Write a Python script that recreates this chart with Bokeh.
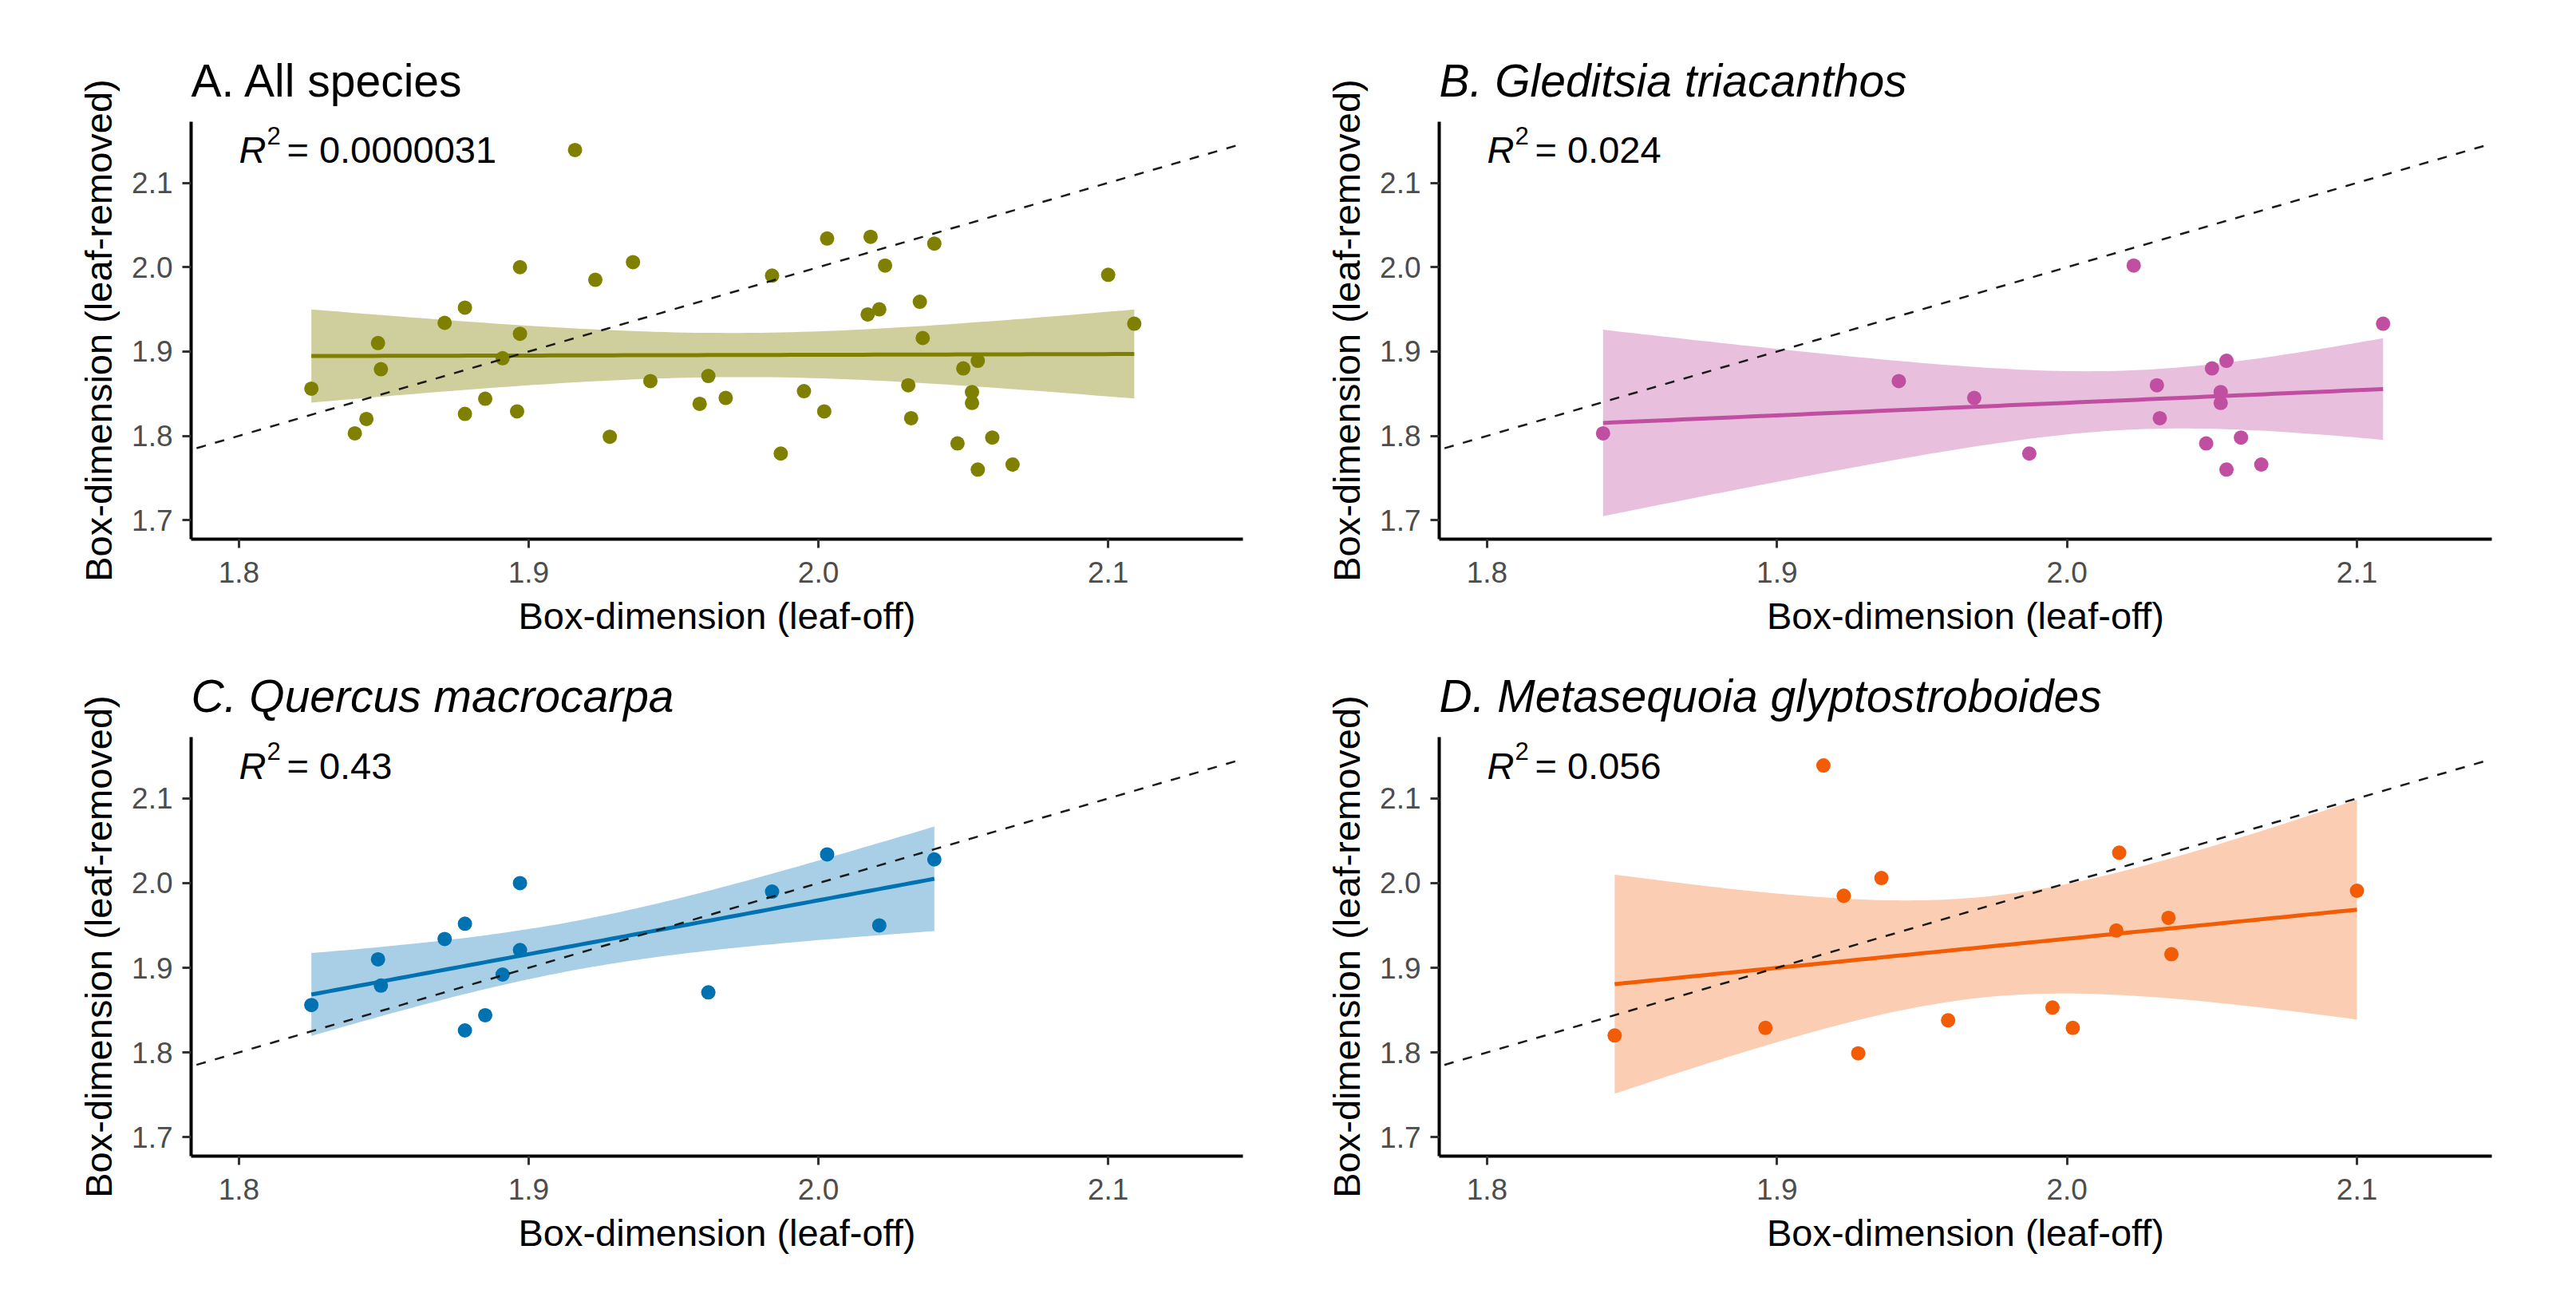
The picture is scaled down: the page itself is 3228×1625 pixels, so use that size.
import numpy as np
from bokeh.plotting import figure
from bokeh.layouts import column, row
from bokeh.models import Range1d, FixedTicker, Slope
from bokeh.core.properties import value
from bokeh.embed import file_html
from bokeh.resources import INLINE

# ---------------- data ----------------
# B. Gleditsia triacanthos
gt_off = [1.840, 1.942, 1.968, 1.987, 2.023, 2.031, 2.032, 2.048, 2.050, 2.055,
          2.053, 2.053, 2.060, 2.055, 2.067, 2.109]
gt_rem = [1.803, 1.865, 1.845, 1.779, 2.002, 1.860, 1.821, 1.791, 1.880, 1.889,
          1.852, 1.839, 1.798, 1.760, 1.766, 1.933]
# C. Quercus macrocarpa
qm_off = [1.825, 1.848, 1.849, 1.871, 1.878, 1.878, 1.885, 1.891, 1.897, 1.897,
          1.962, 1.984, 2.003, 2.021, 2.040]
qm_rem = [1.856, 1.910, 1.879, 1.934, 1.952, 1.826, 1.844, 1.892, 2.000, 1.921,
          1.871, 1.990, 2.034, 1.950, 2.028]
# D. Metasequoia glyptostroboides
mg_off = [1.844, 1.896, 1.916, 1.923, 1.928, 1.936, 1.959, 1.995, 2.002, 2.017,
          2.018, 2.035, 2.036, 2.100]
mg_rem = [1.820, 1.829, 2.139, 1.985, 1.799, 2.006, 1.838, 1.853, 1.829, 1.944,
          2.036, 1.959, 1.916, 1.991]
# A. All species
all_off = gt_off + qm_off + mg_off
all_rem = gt_rem + qm_rem + mg_rem

panel_titles = ["A. All species", "B. Gleditsia triacanthos",
                "C. Quercus macrocarpa", "D. Metasequoia glyptostroboides"]
r2_labels = ["0.0000031", "0.024", "0.43", "0.056"]
t_crit = [2.017, 2.145, 2.160, 2.179]   # 95% t quantiles, df = n - 2
colors = ["#808000", "#C04FA2", "#0072B2", "#F25C05"]
band_alpha = [0.38, 0.36, 0.34, 0.30]

x_ticks = [1.8, 1.9, 2.0, 2.1]
x_tick_labels = ["1.8", "1.9", "2.0", "2.1"]
y_ticks = [1.7, 1.8, 1.9, 2.0, 2.1]
y_tick_labels = ["1.7", "1.8", "1.9", "2.0", "2.1"]

x_label = "Box-dimension (leaf-off)"
y_label = "Box-dimension (leaf-removed)"

FONT = "Liberation Sans"


def make_panel(title, italic, off, rem, color, alpha, r2, tq, borders):
    left, right, top, bottom = borders
    p = figure(width=1606, height=800,
               x_range=Range1d(1.7835, 2.1465), y_range=Range1d(1.6775, 2.1725),
               output_backend="svg", toolbar_location=None,
               min_border_left=left, min_border_right=right,
               min_border_top=top, min_border_bottom=bottom)
    p.grid.visible = False
    p.outline_line_color = None
    p.background_fill_color = "white"
    p.border_fill_color = "white"

    # title
    p.title.text = title
    p.title.text_font = FONT
    p.title.text_font_size = "57px"
    p.title.text_font_style = "italic" if italic else "normal"
    p.title.text_color = "black"
    p.title.align = "left"
    p.title.offset = 0
    p.title.standoff = 40

    for ax, ticks, labels in ((p.xaxis[0], x_ticks, x_tick_labels),
                              (p.yaxis[0], y_ticks, y_tick_labels)):
        ax.ticker = FixedTicker(ticks=ticks)
        ax.major_label_overrides = {t: l for t, l in zip(ticks, labels)}
        ax.minor_tick_line_color = None
        ax.major_tick_in = 0
        ax.major_tick_out = 11
        ax.major_tick_line_width = 3
        ax.major_tick_line_color = "#333333"
        ax.axis_line_width = 4
        ax.axis_line_color = "black"
        ax.major_label_text_font = FONT
        ax.major_label_text_font_size = "37px"
        ax.major_label_text_color = "#4D4D4D"
        ax.axis_label_text_font = FONT
        ax.axis_label_text_font_size = "47px"
        ax.axis_label_text_font_style = "normal"
        ax.axis_label_text_color = "black"
    p.xaxis[0].axis_label = x_label
    p.yaxis[0].axis_label = y_label
    p.xaxis[0].major_label_standoff = 17
    p.xaxis[0].axis_label_standoff = 12
    p.yaxis[0].major_label_standoff = 12
    p.yaxis[0].axis_label_standoff = 12

    # linear fit with 95% confidence band
    x = np.asarray(off, dtype=float)
    y = np.asarray(rem, dtype=float)
    n = len(x)
    b, a = np.polyfit(x, y, 1)
    resid = y - (a + b * x)
    s = np.sqrt(np.sum(resid ** 2) / (n - 2))
    xbar = x.mean()
    sxx = np.sum((x - xbar) ** 2)
    xs = np.linspace(x.min(), x.max(), 80)
    pred = a + b * xs
    se = s * np.sqrt(1.0 / n + (xs - xbar) ** 2 / sxx)
    p.varea(x=xs, y1=pred - tq * se, y2=pred + tq * se,
            fill_color=color, fill_alpha=alpha)
    p.line(xs, pred, line_color=color, line_width=5)

    p.scatter(off, rem, size=18, fill_color=color, line_color=color, line_width=0)

    p.add_layout(Slope(gradient=1, y_intercept=0, line_color="#1a1a1a",
                       line_width=2.5, line_dash="12 12"))

    # R^2 annotation
    yl = 2.139
    p.text(x=[1.8], y=[yl], text=["R"], text_font=value(FONT),
           text_font_size="47px", text_font_style="italic",
           text_baseline="middle", text_align="left", text_color="black")
    p.text(x=[1.8], y=[yl], text=["2"], text_font=value(FONT),
           text_font_size="31px", x_offset=35, y_offset=-18,
           text_baseline="middle", text_align="left", text_color="black")
    p.text(x=[1.8], y=[yl], text=["= " + r2], text_font=value(FONT),
           text_font_size="47px", x_offset=60,
           text_baseline="middle", text_align="left", text_color="black")
    return p


pA = make_panel(panel_titles[0], False, all_off, all_rem, colors[0], band_alpha[0],
                r2_labels[0], t_crit[0], (239, 49, 152, 123))
pB = make_panel(panel_titles[1], True, gt_off, gt_rem, colors[1], band_alpha[1],
                r2_labels[1], t_crit[1], (197, 90, 152, 123))
pC = make_panel(panel_titles[2], True, qm_off, qm_rem, colors[2], band_alpha[2],
                r2_labels[2], t_crit[2], (239, 49, 123, 152))
pD = make_panel(panel_titles[3], True, mg_off, mg_rem, colors[3], band_alpha[3],
                r2_labels[3], t_crit[3], (197, 90, 123, 152))

layout = column(row(pA, pB), row(pC, pD))
open("out.html", "w").write(file_html(layout, INLINE))
